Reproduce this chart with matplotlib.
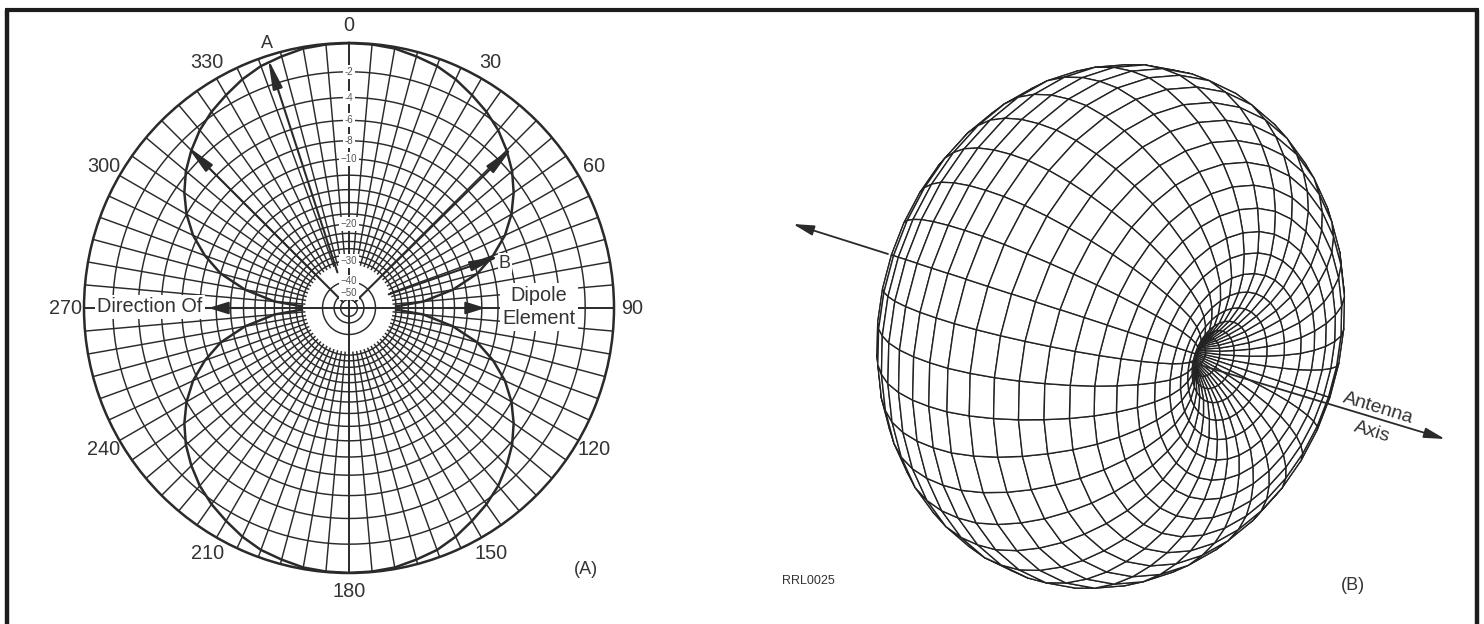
import numpy as np
import matplotlib
matplotlib.use("Agg")
import matplotlib.pyplot as plt
from matplotlib.collections import PolyCollection

plt.rcParams['font.family'] = ['Liberation Sans', 'DejaVu Sans']

W, H = 1484, 624
INK = '#2a2a2a'
TEXT = '#333333'

# ------------------------------
# Data
# ------------------------------
# (A) grid of the polar plot
ring_db = [-2, -4, -6, -8, -10, -12, -14, -16, -18, -20, -22, -24, -26, -28, -30]
inner_ring_db = [-40, -50, -60]
spoke_deg = list(range(0, 360, 5))
angle_labels = [0, 30, 60, 90, 120, 150, 180, 210, 240, 270, 300, 330]
db_labels = [-2, -4, -6, -8, -10, -20, -30, -40, -50]

# (A) dipole pattern, degrees off the vertical and level in dB
lobe_deg = [0, 5, 10, 15, 20, 25, 30, 35, 40, 45, 50, 55, 60, 65, 70, 75, 80, 85, 88]
lobe_db = [0, -0.03, -0.1, -0.3, -0.5, -0.85, -1.3, -1.75, -2.3, -3.0, -3.8, -4.8, -6, -7.5, -9.5,
           -12, -16, -22, -30]

# (A) arrows: direction, level of the tip in dB
arrow_deg = [342, 315, 45.5, 71]
arrow_tip_db = [-0.2, -2.5, -2.5, -8.8]
arrow_start_db = [-34, -60, -60, -32]

# (B) meridian profile of the solid: distance from the axis, height along the axis
profile_rho = [0, 5, 12, 20, 30, 42, 58, 76, 96, 117, 138, 160, 181, 201, 219, 235, 248, 258, 264, 265,
               263, 257, 247, 233, 217, 199, 179, 158, 136, 114, 92, 70, 45, 20, 0]
profile_h = [96, 107, 120, 132, 142, 152, 161, 168, 172, 171, 167, 159, 148, 133, 115, 95, 73, 49, 24, 0,
             -24, -49, -73, -95, -115, -133, -148, -159, -167, -171, -172, -165, -152, -125, -96]
meridian_count = 36
axis_screen_deg = 18
axis_view_deg = 50
solid_center = (1110, 326)


def db_to_r(db):
    return 10 ** (np.asarray(db, dtype=float) / 40)


fig = plt.figure(figsize=(W / 100, H / 100), dpi=100, facecolor='white')

# ------------------------------
# Pixel layer: frame, panel B, free labels
# ------------------------------
px = fig.add_axes([0, 0, 1, 1])
px.set_xlim(0, W)
px.set_ylim(H, 0)
px.axis('off')

px.plot([7, 7], [H, 9.5], color='#1c1c1c', lw=3.2, solid_capstyle='butt')
px.plot([5, 1479], [9.5, 9.5], color='#1c1c1c', lw=3.0, solid_capstyle='butt')
px.plot([1477, 1477], [9.5, H], color='#1c1c1c', lw=3.2, solid_capstyle='butt')

# Surface of revolution around the antenna axis, painted back to front
tilt = np.radians(axis_screen_deg)
view = np.radians(axis_view_deg)
axis_vec = np.array([np.cos(tilt) * np.sin(view), np.sin(tilt) * np.sin(view), np.cos(view)])
e1 = np.array([-np.sin(tilt), np.cos(tilt), 0.0])
e2 = np.cross(axis_vec, e1)

phi = np.linspace(0, 2 * np.pi, meridian_count + 1)
rho = np.array(profile_rho, dtype=float)
hgt = np.array(profile_h, dtype=float)
P = (rho[None, :, None] * np.cos(phi)[:, None, None] * e1
     + rho[None, :, None] * np.sin(phi)[:, None, None] * e2
     + hgt[None, :, None] * axis_vec)

quads, depth = [], []
for i in range(meridian_count):
    for j in range(len(rho) - 1):
        q = np.array([P[i, j], P[i + 1, j], P[i + 1, j + 1], P[i, j + 1]])
        quads.append(q[:, :2] + solid_center)
        depth.append(q[:, 2].mean())
order = np.argsort(depth)
px.add_collection(PolyCollection([quads[k] for k in order], facecolors='white',
                                 edgecolors='#222222', linewidths=1.0))

arrow_kw = dict(arrowstyle='-|>,head_length=0.9,head_width=0.22', color=INK, lw=1.3,
                mutation_scale=14, shrinkA=0, shrinkB=0)
px.annotate('', xy=(793, 224), xytext=(888, 254), arrowprops=arrow_kw)
px.annotate('', xy=(1445, 439), xytext=(1190, 362), arrowprops=arrow_kw)

px.text(1378, 408, 'Antenna', rotation=-17, fontsize=14, color=TEXT, ha='center', va='center')
px.text(1372, 432, 'Axis', rotation=-17, fontsize=14, color=TEXT, ha='center', va='center')
px.text(808, 581, 'RRL0025', fontsize=9, color=TEXT, ha='center', va='center')
px.text(586, 569, '(A)', fontsize=13, color=TEXT, ha='center', va='center')
px.text(1353, 585, '(B)', fontsize=13, color=TEXT, ha='center', va='center')

# ------------------------------
# Panel A: polar plot
# ------------------------------
R = 265
ax = fig.add_axes([(349 - R) / W, 1 - (308 + R) / H, 2 * R / W, 2 * R / H], projection='polar')
ax.set_theta_zero_location('N')
ax.set_theta_direction(-1)
ax.set_ylim(0, 1)
ax.grid(False)
ax.set_xticks([])
ax.set_yticks([])
ax.patch.set_alpha(0)
ax.spines['polar'].set_color(INK)
ax.spines['polar'].set_linewidth(1.8)

circle = np.radians(np.arange(0, 361, 1))
for db in ring_db + inner_ring_db:
    ax.plot(circle, np.full(circle.shape, db_to_r(db)), color=INK, lw=1.05)

r_min = db_to_r(-31)
for deg in spoke_deg:
    start = 0 if deg % 90 == 0 else r_min
    ax.plot([np.radians(deg)] * 2, [start, 1], color=INK, lw=1.05 if deg % 90 else 1.4)

# Dipole lobes
lobe_t = np.radians(lobe_deg)
lobe_r = db_to_r(lobe_db)
for mid in (0, np.pi):
    t = np.concatenate([mid - lobe_t[::-1], mid + lobe_t[1:]])
    r = np.concatenate([lobe_r[::-1], lobe_r[1:]])
    ax.plot(t, r, color=INK, lw=1.8)

polar_arrow = dict(arrowstyle='-|>,head_length=1.2,head_width=0.2', color=INK, lw=1.5,
                   mutation_scale=15, shrinkA=0, shrinkB=0)
for deg, tip, start in zip(arrow_deg, arrow_tip_db, arrow_start_db):
    ax.annotate('', xy=(np.radians(deg), db_to_r(tip)), xytext=(np.radians(deg), db_to_r(start)),
                arrowprops=polar_arrow)

# Short heads on the dipole axis
axis_arrow = dict(arrowstyle='-|>,head_length=0.8,head_width=0.25', color=INK, lw=1.5,
                  mutation_scale=15, shrinkA=0, shrinkB=0)
ax.annotate('', xy=(np.radians(270), 0.53), xytext=(np.radians(270), 0.40), arrowprops=axis_arrow)
ax.plot([np.radians(270)] * 2, [0.45, 0.55], color=INK, lw=1.5)
ax.annotate('', xy=(np.radians(90), 0.515), xytext=(np.radians(90), 0.38), arrowprops=axis_arrow)

for deg in angle_labels:
    r_label = 1.065 if deg == 0 else 1.07
    ax.text(np.radians(deg), r_label, str(deg), fontsize=14.3, color=TEXT, ha='center', va='center')

for db in db_labels:
    ax.text(0, db_to_r(db), str(db).replace('-', '\u2212' if db <= -10 else '-'),
            fontsize=7, color='#555555', ha='center', va='center',
            bbox=dict(facecolor='white', edgecolor='none', pad=1.4))

top = fig.add_axes([0, 0, 1, 1])
top.set_xlim(0, W)
top.set_ylim(H, 0)
top.axis('off')
white = dict(facecolor='white', edgecolor='none', pad=2.0)
top.text(150, 307, 'Direction Of', fontsize=14.3, color=TEXT, ha='center', va='center', bbox=white)
top.text(539, 307, 'Dipole\nElement', fontsize=14.3, color=TEXT, ha='center', va='center',
         linespacing=1.3, bbox=white)
top.text(267, 43, 'A', fontsize=13, color=TEXT, ha='center', va='center')
top.text(505, 263, 'B', fontsize=13, color=TEXT, ha='center', va='center',
         bbox=dict(facecolor='white', edgecolor='none', pad=1))

fig.savefig('out.png', dpi=100, facecolor='white')
